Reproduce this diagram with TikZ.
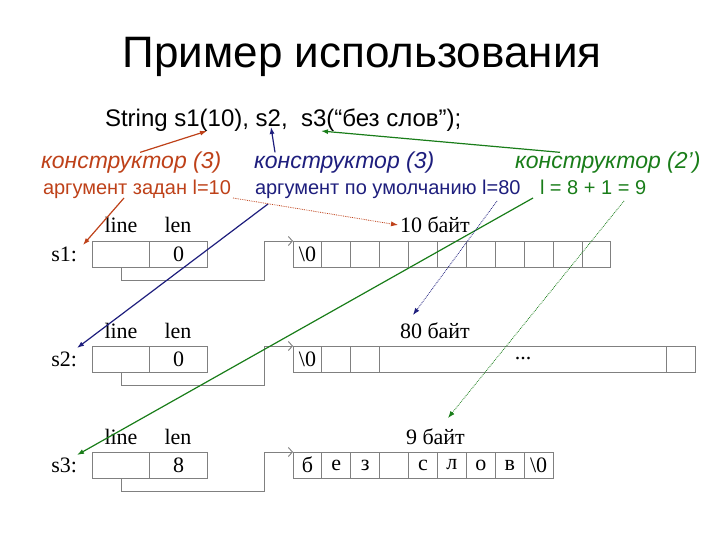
\documentclass[tikz,border=0pt]{standalone}
\usepackage{fontspec}
\setmainfont{Liberation Sans}
\newfontfamily\serifrm{Liberation Serif}
\usetikzlibrary{arrows.meta,positioning}

\definecolor{ctorred}{RGB}{190,65,25}
\definecolor{ctorblue}{RGB}{30,30,125}
\definecolor{ctorgreen}{RGB}{25,125,25}
\definecolor{boxgray}{RGB}{128,128,128}

\tikzset{
  cell/.style={draw=boxgray, line width=0.9pt, minimum width=28.9pt, minimum height=26pt,
    inner sep=0pt, outer sep=0pt, font=\serifrm\fontsize{22}{24}\selectfont},
  field/.style={cell, minimum width=57.5pt},
  rmtxt/.style={inner sep=0pt, outer sep=0pt, font=\serifrm\fontsize{22}{24}\selectfont},
  sstxt/.style={inner sep=0pt, outer sep=0pt, anchor=base west},
  ctortxt/.style={sstxt, font=\itshape\fontsize{23}{26}\selectfont},
  argtxt/.style={sstxt, font=\fontsize{20}{22}\selectfont},
  ptr/.style={draw=boxgray, line width=0.9pt, -{Straight Barb[length=4pt,width=9pt]}},
  hint/.style={line width=1.2pt, -{Latex[length=7pt,width=5pt]}},
  dots/.style={line width=0.8pt, densely dotted, -{Latex[length=7pt,width=5pt]}}
}

\begin{document}
\begin{tikzpicture}[x=1pt,y=-1pt]
\useasboundingbox (0,0) rectangle (720,540);
% heading and the declaration
\node[anchor=base, inner sep=0pt, font=\fontsize{44}{50}\selectfont] (title) at (362,68) {Пример использования};
\node[sstxt, font=\fontsize{24}{28}\selectfont] (code) at (105,127) {String s1(10), s2,\ \ s3(“без слов”);};
\coordinate (tgt1) at (207,131);
\coordinate (tgt2) at (271,127);
\coordinate (tgt3) at (321,131);
% notes
\node[ctortxt, text=ctorred] (ctorA) at (41,169) {конструктор (3)};
\node[argtxt, text=ctorred] (argA) at (43,195) {аргумент задан l=10};
\node[ctortxt, text=ctorblue] (ctorB) at (254,169) {конструктор (3)};
\node[argtxt, text=ctorblue] (argB) at (255,195) {аргумент по умолчанию l=80};
\node[ctortxt, text=ctorgreen] (ctorC) at (515,169) {конструктор (2’)};
\node[argtxt, text=ctorgreen] (argC) at (540,195) {l = 8 + 1 = 9};

% s1
\node[rmtxt, anchor=base east] (s1) at (77,261) {s1:};
\node[field] (line1) at (121,254) {};
\node[field, right=0pt of line1] (len1) {0};
\node[rmtxt, anchor=base] at (121,233) {line};
\node[rmtxt, anchor=base] at (178,233) {len};
\node[cell] (a1) at (307.45,254) {\textbackslash0};
\node[cell, right=0pt of a1] (a2) {};
\node[cell, right=0pt of a2] (a3) {};
\node[cell, right=0pt of a3] (a4) {};
\node[cell, right=0pt of a4] (a5) {};
\node[cell, right=0pt of a5] (a6) {};
\node[cell, right=0pt of a6] (a7) {};
\node[cell, right=0pt of a7] (a8) {};
\node[cell, right=0pt of a8] (a9) {};
\node[cell, right=0pt of a9] (a10) {};
\node[cell, right=0pt of a10] (a11) {};
\node[rmtxt, anchor=base west] (size1) at (400,233) {10 байт};
\draw[ptr] (line1.south) -- ++(0,13) -| ([xshift=-29pt]a1.north west) -- (a1.north west);

% s2
\node[rmtxt, anchor=base east] (s2) at (77,366) {s2:};
\node[field] (line2) at (121,359) {};
\node[field, right=0pt of line2] (len2) {0};
\node[rmtxt, anchor=base] at (121,338) {line};
\node[rmtxt, anchor=base] at (178,338) {len};
\node[cell] (b1) at (307.45,359) {\textbackslash0};
\node[cell, right=0pt of b1] (b2) {};
\node[cell, right=0pt of b2] (b3) {};
\node[cell, right=0pt of b3, minimum width=287pt] (b4) {...};
\node[cell, right=0pt of b4] (b5) {};
\node[rmtxt, anchor=base west] (size2) at (400,338) {80 байт};
\draw[ptr] (line2.south) -- ++(0,13) -| ([xshift=-29pt]b1.north west) -- (b1.north west);

% s3
\node[rmtxt, anchor=base east] (s3) at (77,472) {s3:};
\node[field] (line3) at (121,465) {};
\node[field, right=0pt of line3] (len3) {8};
\node[rmtxt, anchor=base] at (121,444) {line};
\node[rmtxt, anchor=base] at (178,444) {len};
\node[cell] (c1) at (307.45,465) {б};
\node[cell, right=0pt of c1] (c2) {е};
\node[cell, right=0pt of c2] (c3) {з};
\node[cell, right=0pt of c3] (c4) {};
\node[cell, right=0pt of c4] (c5) {с};
\node[cell, right=0pt of c5] (c6) {л};
\node[cell, right=0pt of c6] (c7) {о};
\node[cell, right=0pt of c7] (c8) {в};
\node[cell, right=0pt of c8] (c9) {\textbackslash0};
\node[rmtxt, anchor=base west] (size3) at (406,444) {9 байт};
\draw[ptr] (line3.south) -- ++(0,13) -| ([xshift=-29pt]c1.north west) -- (c1.north west);

% which constructor
\draw[hint, ctorred] ([xshift=9pt]ctorA.north) -- (tgt1);
\draw[hint, ctorblue] ([xshift=21pt]ctorB.north west) -- (tgt2);
\draw[hint, ctorgreen] ([xshift=45pt]ctorC.north west) -- (tgt3);
% where the fields point
\coordinate (endA) at (83,245);
\coordinate (endB) at (77,348);
\coordinate (endC) at (77,455);
\draw[hint, ctorred] (124,198) -- (endA);
\draw[hint, ctorblue] (268,204) -- (endB);
\draw[hint, ctorgreen] (533,198) -- (endC);
\coordinate (szA) at (398,225);
\coordinate (szB) at (413,315);
\coordinate (szC) at (448,418);
\draw[dots, ctorred] (233,198) -- (szA);
\draw[dots, ctorblue] (497,201) -- (szB);
\draw[dots, ctorgreen] (624,201) -- (szC);
\end{tikzpicture}
\end{document}
